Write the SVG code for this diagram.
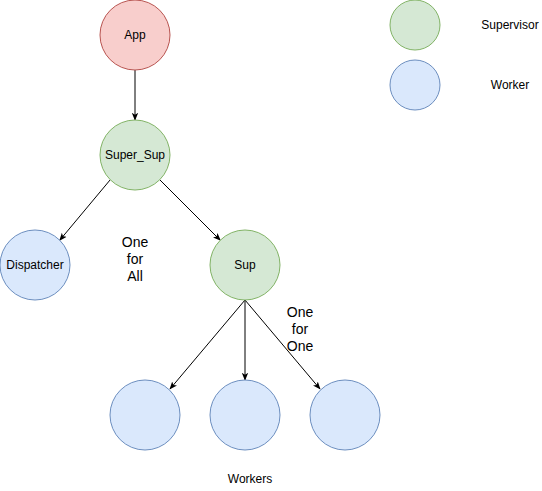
<svg xmlns="http://www.w3.org/2000/svg" width="542" height="491" viewBox="0 0 542 491">
<style>
text{font-family:"Liberation Sans",Arial,sans-serif;font-size:12px;fill:#000;text-anchor:middle}
.big{font-size:14px}
.red{fill:#f8cecc;stroke:#b85450}
.green{fill:#d5e8d4;stroke:#82b366}
.blue{fill:#dae8fc;stroke:#6c8ebf}
.edge{stroke:#000;stroke-width:1;fill:none;marker-end:url(#arr)}
</style>
<defs>
<marker id="arr" viewBox="0 0 10 10" refX="9" refY="5" markerWidth="8" markerHeight="8" markerUnits="userSpaceOnUse" orient="auto">
<path d="M0,1 L10,5 L0,9 L2.5,5 Z" fill="#000"/>
</marker>
</defs>
<rect width="542" height="491" fill="#fff"/>
<g id="connectors">
<line class="edge" x1="135" y1="70" x2="135" y2="120"/>
<line class="edge" x1="110.3" y1="179.7" x2="59.7" y2="240.3"/>
<line class="edge" x1="159.7" y1="179.7" x2="220.3" y2="240.3"/>
<line class="edge" x1="245" y1="300" x2="170" y2="389"/>
<line class="edge" x1="245" y1="300" x2="245" y2="380"/>
<line class="edge" x1="245" y1="300" x2="320" y2="389"/>
</g>
<g id="app"><circle class="red" cx="135" cy="35" r="35"/><text x="135" y="39">App</text></g>
<g id="super_sup"><circle class="green" cx="135" cy="155" r="35"/><text x="135" y="159">Super_Sup</text></g>
<g id="dispatcher"><circle class="blue" cx="35" cy="265" r="35"/><text x="35" y="269">Dispatcher</text></g>
<g id="sup"><circle class="green" cx="245" cy="265" r="35"/><text x="245" y="269">Sup</text></g>
<g id="worker1"><circle class="blue" cx="145" cy="415" r="35"/></g>
<g id="worker2"><circle class="blue" cx="245" cy="415" r="35"/></g>
<g id="worker3"><circle class="blue" cx="345" cy="415" r="35"/></g>
<g id="label_one_for_all"><text class="big" x="135" y="247">One</text><text class="big" x="135" y="264">for</text><text class="big" x="135" y="281">All</text></g>
<g id="label_one_for_one"><text class="big" x="300" y="317">One</text><text class="big" x="300" y="334">for</text><text class="big" x="300" y="351">One</text></g>
<g id="label_workers"><text x="250" y="483">Workers</text></g>
<g id="legend_supervisor"><circle class="green" cx="415" cy="25" r="25"/><text x="510" y="29">Supervisor</text></g>
<g id="legend_worker"><circle class="blue" cx="415" cy="85" r="25"/><text x="510" y="89">Worker</text></g>
</svg>
